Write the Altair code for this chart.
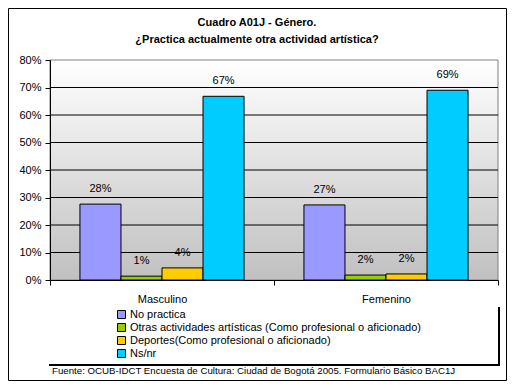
import altair as alt
import pandas as pd

generos = ["Masculino", "Femenino"]
series = [
    "No practica",
    "Otras actividades artísticas (Como profesional o aficionado)",
    "Deportes(Como profesional o aficionado)",
    "Ns/nr",
]
colores = ["#9999ff", "#99cc00", "#ffcc00", "#00ccff"]
masculino = [27.6, 1.4, 4.4, 66.8]
femenino = [27.3, 1.8, 2.2, 69.0]
ticks_y = [0, 10, 20, 30, 40, 50, 60, 70, 80]
grid_y = [10, 20, 30, 40, 50, 60, 70]
titulo = ["Cuadro A01J - Género.", "¿Practica actualmente otra actividad artística?"]
fuente = "Fuente: OCUB-IDCT Encuesta de Cultura: Ciudad de Bogotá 2005. Formulario Básico BAC1J"

FONT = "Liberation Sans"
W, H = 448, 220

rows = []
for g, vals in zip(generos, [masculino, femenino]):
    for s, v in zip(series, vals):
        rows.append({"genero": g, "serie": s, "valor": v, "etiqueta": f"{v:.0f}%"})
df = pd.DataFrame(rows)

y_enc = alt.Y(
    "valor:Q",
    scale=alt.Scale(domain=[0, 80], nice=False),
    axis=alt.Axis(
        values=ticks_y, labelExpr="datum.value + '%'", title=None, grid=False,
        tickSize=5, labelPadding=4, domainColor="black", tickColor="black",
        labelColor="black", labelFont=FONT, labelFontSize=11, zindex=1,
    ),
)
x_enc = alt.X(
    "genero:N", sort=generos,
    scale=alt.Scale(paddingInner=0, paddingOuter=0),
    axis=alt.Axis(
        title=None, labelAngle=0, tickBand="extent", tickSize=5, labelPadding=8,
        domainColor="black", tickColor="black", labelColor="black",
        labelFont=FONT, labelFontSize=11, zindex=1,
    ),
)
xo_enc = alt.XOffset("serie:N", sort=series, scale=alt.Scale(paddingInner=0, paddingOuter=0.73))

one = pd.DataFrame({"a": [0]})

gradient = alt.Gradient(
    gradient="linear",
    stops=[alt.GradientStop(color="#ffffff", offset=0), alt.GradientStop(color="#c0c0c0", offset=1)],
    x1=0, x2=0, y1=0, y2=1,
)
background = alt.Chart(one).mark_rect(fill=gradient, stroke="#808080", strokeWidth=1).encode(
    x=alt.value(0), x2=alt.value(W), y=alt.value(0), y2=alt.value(H)
)

grid = alt.Chart(pd.DataFrame({"valor": grid_y})).mark_rule(color="black", strokeWidth=1).encode(
    y=y_enc, x=alt.value(0), x2=alt.value(W)
)

bars = alt.Chart(df).mark_bar(stroke="black", strokeWidth=1, opacity=1).encode(
    x=x_enc,
    xOffset=xo_enc,
    y=y_enc,
    color=alt.Color(
        "serie:N", sort=series,
        scale=alt.Scale(domain=series, range=colores),
        legend=alt.Legend(
            title=None, orient="none", legendX=66, legendY=249, direction="vertical",
            symbolType="square", symbolSize=64, symbolStrokeColor="black",
            symbolStrokeWidth=1, symbolOpacity=1, labelFont=FONT, labelFontSize=11,
            labelColor="black", labelLimit=500, labelOffset=3, rowPadding=0,
        ),
    ),
)

labels = alt.Chart(df).mark_text(
    font=FONT, fontSize=11, color="black", baseline="middle", dy=-15
).encode(x=x_enc, xOffset=xo_enc, y=y_enc, text="etiqueta:N")

legend_shadow_b = alt.Chart(one).mark_rule(color="black", strokeWidth=2).encode(
    x=alt.value(-1), x2=alt.value(450), y=alt.value(305)
)
legend_shadow_r = alt.Chart(one).mark_rule(color="black", strokeWidth=2).encode(
    x=alt.value(449), y=alt.value(247), y2=alt.value(306)
)

title1 = alt.Chart(pd.DataFrame({"t": [titulo[0]]})).mark_text(
    font=FONT, fontSize=11, fontWeight="bold", color="black", align="center", baseline="middle"
).encode(x=alt.value(207), y=alt.value(-37), text="t:N")
title2 = alt.Chart(pd.DataFrame({"t": [titulo[1]]})).mark_text(
    font=FONT, fontSize=11, fontWeight="bold", color="black", align="center", baseline="middle"
).encode(x=alt.value(207), y=alt.value(-20), text="t:N")

footer = alt.Chart(pd.DataFrame({"t": [fuente]})).mark_text(
    font=FONT, fontSize=9.7, color="black", align="left", baseline="middle"
).encode(x=alt.value(2), y=alt.value(311), text="t:N")

border = alt.Chart(one).mark_rect(filled=False, stroke="black", strokeWidth=1).encode(
    x=alt.value(-41.5), x2=alt.value(456.5), y=alt.value(-51.5), y2=alt.value(320.5)
)

chart = alt.layer(
    background, grid, bars, labels, legend_shadow_b, legend_shadow_r,
    title1, title2, footer, border,
).properties(
    width=W, height=H,
    autosize=alt.AutoSizeParams(type="none"),
    padding={"left": 42, "top": 52, "right": 9, "bottom": 101},
    background="white",
).configure_view(stroke=None)

chart.save("out.html", embed_options={"renderer": "svg", "actions": False})
